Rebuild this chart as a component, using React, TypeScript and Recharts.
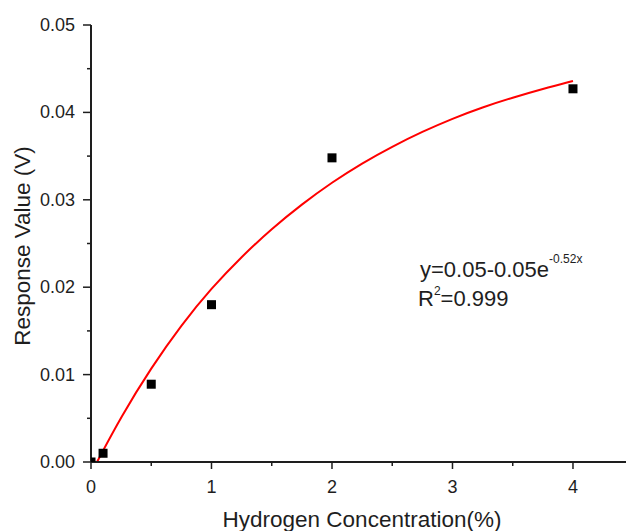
import {
  ComposedChart,
  Line,
  Scatter,
  XAxis,
  YAxis,
} from "recharts";

// measured points (concentration %, response V)
const concentrations = [0, 0.1, 0.5, 1, 2, 4];
const responses = [0, 0.001, 0.0089, 0.018, 0.0348, 0.0427];

// fitted curve
const fitX = [0.05, 0.25, 0.5, 0.75, 1, 1.25, 1.5, 1.75, 2, 2.25, 2.5, 2.75, 3, 3.25, 3.5, 3.75, 4];
const fitY = [
  0, 0.0052, 0.0108, 0.0157, 0.0199, 0.0235, 0.0267, 0.0295, 0.032, 0.0342,
  0.0361, 0.0378, 0.0393, 0.0406, 0.0417, 0.0427, 0.0436,
];

const xTicks = [0, 0.5, 1, 1.5, 2, 2.5, 3, 3.5, 4];
const yTicks = [0, 0.005, 0.01, 0.015, 0.02, 0.025, 0.03, 0.035, 0.04, 0.045, 0.05];

const points = concentrations.map((x, i) => ({ x, y: responses[i] }));
const fit = fitX.map((x, i) => ({ x, y: fitY[i] }));

const FONT = "'Liberation Sans', Arial, sans-serif";
const INK = "#1e1e1e";

function XTick(props: any) {
  const { x, y, payload } = props;
  const major = Number.isInteger(payload.value);
  return (
    <g>
      <line x1={x} x2={x} y1={y} y2={y + (major ? 7 : 4)} stroke={INK} strokeWidth={1.5} />
      {major && (
        <text x={x} y={y + 31} textAnchor="middle" fontSize={18} fill={INK} fontFamily={FONT}>
          {payload.value}
        </text>
      )}
    </g>
  );
}

function YTick(props: any) {
  const { x, y, payload } = props;
  const v = payload.value * 100;
  const major = Math.abs(v - Math.round(v)) < 1e-6;
  return (
    <g>
      <line x1={x} x2={x - (major ? 8 : 4)} y1={y} y2={y} stroke={INK} strokeWidth={1.5} />
      {major && (
        <text x={x - 16} y={y + 6} textAnchor="end" fontSize={18} fill={INK} fontFamily={FONT}>
          {payload.value.toFixed(2)}
        </text>
      )}
    </g>
  );
}

function Square(props: any) {
  const { cx, cy } = props;
  return <rect x={cx - 4.5} y={cy - 4.5} width={9} height={9} fill="#000" />;
}

export default function App() {
  return (
    <div style={{ position: "absolute", left: 0, top: 0, width: 626, height: 531, background: "#fff" }}>
      <ComposedChart width={626} height={531} margin={{ top: 25, right: 0, left: 0, bottom: 0 }}>
        <XAxis
          type="number"
          dataKey="x"
          domain={[0, 4.44]}
          ticks={xTicks}
          allowDataOverflow
          height={69}
          tickSize={0}
          tickMargin={0}
          tickLine={false}
          tick={<XTick />}
          axisLine={{ stroke: INK, strokeWidth: 2 }}
        />
        <YAxis
          type="number"
          dataKey="y"
          domain={[0, 0.05]}
          ticks={yTicks}
          allowDataOverflow
          width={91}
          tickSize={0}
          tickMargin={0}
          tickLine={false}
          tick={<YTick />}
          axisLine={{ stroke: INK, strokeWidth: 2 }}
        />
        <Line
          data={fit}
          dataKey="y"
          type="basis"
          stroke="#ff0000"
          strokeWidth={2}
          dot={false}
          activeDot={false}
          isAnimationActive={false}
        />
        <Scatter data={points} dataKey="y" shape={<Square />} isAnimationActive={false} />
      </ComposedChart>
      <svg
        width={626}
        height={531}
        style={{ position: "absolute", left: 0, top: 0, pointerEvents: "none" }}
        fontFamily={FONT}
        fill={INK}
      >
        <text x={362} y={527} textAnchor="middle" fontSize={22.5}>
          Hydrogen Concentration(%)
        </text>
        <text x={30} y={246} textAnchor="middle" fontSize={22.5} transform="rotate(-90, 30, 246)">
          Response Value (V)
        </text>
        <text x={420} y={277} fontSize={22}>
          y=0.05-0.05e
          <tspan fontSize={12} dy={-14}>-0.52x</tspan>
        </text>
        <text x={418} y={306} fontSize={22}>
          R<tspan fontSize={12} dy={-11}>2</tspan>
          <tspan dy={11}>=0.999</tspan>
        </text>
      </svg>
    </div>
  );
}
